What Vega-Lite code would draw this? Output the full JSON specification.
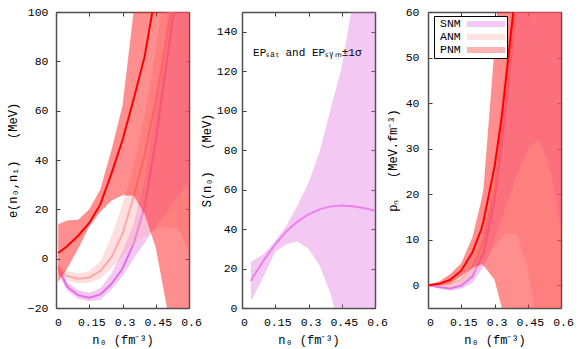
{
 "$schema": "https://vega.github.io/schema/vega-lite/v6.json",
 "padding": {"left": 6, "top": 6, "right": 5, "bottom": 4},
 "spacing": 53,
 "bounds": "flush",
 "background": "white",
 "config": {
  "font": "Liberation Mono",
  "view": {"stroke": null},
  "axis": {"domainColor": "#505050", "domainWidth": 1.5, "tickColor": "#404040", "tickWidth": 1, "tickSize": -4, "grid": false, "labelFont": "Liberation Mono", "labelFontSize": 11.5, "labelColor": "black", "titleFont": "Liberation Mono", "titleFontSize": 12, "titleFontWeight": "normal", "titleColor": "black", "labelOverlap": false, "labelFlush": false, "zindex": 1}
 },
 "datasets": {
  "E": [
   {"m": "SNM", "n": 0.01, "lo": -6, "hi": -1.5, "c": -3.5},
   {"m": "SNM", "n": 0.05, "lo": -13, "hi": -9.5, "c": -11.3},
   {"m": "SNM", "n": 0.1, "lo": -16.3, "hi": -12.8, "c": -14.8},
   {"m": "SNM", "n": 0.15, "lo": -17.3, "hi": -13.8, "c": -15.8},
   {"m": "SNM", "n": 0.2, "lo": -16.8, "hi": -12, "c": -14.5},
   {"m": "SNM", "n": 0.25, "lo": -12.5, "hi": -6, "c": -10.3},
   {"m": "SNM", "n": 0.3, "lo": -7, "hi": 3, "c": -4},
   {"m": "SNM", "n": 0.35, "lo": 0, "hi": 14, "c": 6},
   {"m": "SNM", "n": 0.4, "lo": 6.5, "hi": 32, "c": 21},
   {"m": "SNM", "n": 0.45, "lo": 13, "hi": 62, "c": 48},
   {"m": "SNM", "n": 0.5, "lo": 19, "hi": 95, "c": 80},
   {"m": "SNM", "n": 0.55, "lo": 25, "hi": 130, "c": 112},
   {"m": "SNM", "n": 0.6, "lo": 31, "hi": 170, "c": 150},
   {"m": "ANM", "n": 0.01, "lo": -5.5, "hi": -2.5, "c": -4},
   {"m": "ANM", "n": 0.05, "lo": -9, "hi": -5, "c": -7},
   {"m": "ANM", "n": 0.1, "lo": -10, "hi": -6, "c": -8.1},
   {"m": "ANM", "n": 0.15, "lo": -9.8, "hi": -5, "c": -7.6},
   {"m": "ANM", "n": 0.2, "lo": -8, "hi": -1, "c": -5},
   {"m": "ANM", "n": 0.25, "lo": -4, "hi": 9, "c": 0.5},
   {"m": "ANM", "n": 0.3, "lo": 1, "hi": 22, "c": 10},
   {"m": "ANM", "n": 0.35, "lo": 5.5, "hi": 38, "c": 25},
   {"m": "ANM", "n": 0.4, "lo": 9, "hi": 58, "c": 42},
   {"m": "ANM", "n": 0.45, "lo": 12, "hi": 85, "c": 64},
   {"m": "ANM", "n": 0.5, "lo": 13, "hi": 115, "c": 90},
   {"m": "ANM", "n": 0.55, "lo": 12, "hi": 150, "c": 118},
   {"m": "ANM", "n": 0.6, "lo": 3, "hi": 190, "c": 150},
   {"m": "PNM", "n": 0.01, "lo": -9.5, "hi": 14, "c": 2.3},
   {"m": "PNM", "n": 0.05, "lo": -4, "hi": 15.5, "c": 5},
   {"m": "PNM", "n": 0.1, "lo": 4, "hi": 15.8, "c": 9.3},
   {"m": "PNM", "n": 0.15, "lo": 13, "hi": 20, "c": 14.5},
   {"m": "PNM", "n": 0.2, "lo": 19, "hi": 28, "c": 22},
   {"m": "PNM", "n": 0.25, "lo": 23.5, "hi": 44, "c": 34.5},
   {"m": "PNM", "n": 0.3, "lo": 25.7, "hi": 62, "c": 48},
   {"m": "PNM", "n": 0.35, "lo": 25.5, "hi": 100, "c": 64.5},
   {"m": "PNM", "n": 0.4, "lo": 18, "hi": 140, "c": 82},
   {"m": "PNM", "n": 0.45, "lo": 4.5, "hi": 180, "c": 108},
   {"m": "PNM", "n": 0.5, "lo": -19.6, "hi": 220, "c": 135},
   {"m": "PNM", "n": 0.55, "lo": -45, "hi": 260, "c": 165},
   {"m": "PNM", "n": 0.6, "lo": -70, "hi": 300, "c": 200}
  ],
  "S": [
   {"m": "SNM", "n": 0.04, "lo": 3.6, "hi": 23, "c": 13.7},
   {"m": "SNM", "n": 0.05, "lo": 5.5, "hi": 24, "c": 15.8},
   {"m": "SNM", "n": 0.1, "lo": 16.5, "hi": 27.5, "c": 24.5},
   {"m": "SNM", "n": 0.15, "lo": 28.5, "hi": 34, "c": 32.3},
   {"m": "SNM", "n": 0.2, "lo": 32.3, "hi": 41.5, "c": 38.8},
   {"m": "SNM", "n": 0.25, "lo": 33.7, "hi": 52, "c": 43.8},
   {"m": "SNM", "n": 0.3, "lo": 30, "hi": 63.5, "c": 47.5},
   {"m": "SNM", "n": 0.35, "lo": 21.5, "hi": 79, "c": 50},
   {"m": "SNM", "n": 0.4, "lo": 7, "hi": 101, "c": 51.5},
   {"m": "SNM", "n": 0.45, "lo": -15, "hi": 122, "c": 52},
   {"m": "SNM", "n": 0.5, "lo": -40, "hi": 155, "c": 51.6},
   {"m": "SNM", "n": 0.55, "lo": -65, "hi": 190, "c": 50.7},
   {"m": "SNM", "n": 0.6, "lo": -90, "hi": 225, "c": 49.3}
  ],
  "P": [
   {"m": "SNM", "n": 0, "lo": 0, "hi": 0, "c": 0},
   {"m": "SNM", "n": 0.05, "lo": -0.8, "hi": 0, "c": -0.4},
   {"m": "SNM", "n": 0.1, "lo": -1.2, "hi": -0.2, "c": -0.7},
   {"m": "SNM", "n": 0.15, "lo": -0.8, "hi": 0.8, "c": -0.1},
   {"m": "SNM", "n": 0.2, "lo": 0.5, "hi": 3.5, "c": 1.9},
   {"m": "SNM", "n": 0.25, "lo": 4, "hi": 10, "c": 7},
   {"m": "SNM", "n": 0.28, "lo": 7, "hi": 16, "c": 14},
   {"m": "SNM", "n": 0.3, "lo": 10, "hi": 22, "c": 18.5},
   {"m": "SNM", "n": 0.35, "lo": 17, "hi": 42, "c": 38},
   {"m": "SNM", "n": 0.4, "lo": 24, "hi": 68, "c": 62},
   {"m": "SNM", "n": 0.453, "lo": 30.3, "hi": 95, "c": 90},
   {"m": "SNM", "n": 0.5, "lo": 32, "hi": 120, "c": 115},
   {"m": "SNM", "n": 0.535, "lo": 28, "hi": 140, "c": 135},
   {"m": "SNM", "n": 0.558, "lo": 24, "hi": 155, "c": 150},
   {"m": "SNM", "n": 0.6, "lo": 12, "hi": 180, "c": 175},
   {"m": "ANM", "n": 0, "lo": 0, "hi": 0, "c": 0},
   {"m": "ANM", "n": 0.05, "lo": -0.3, "hi": 0.4, "c": 0},
   {"m": "ANM", "n": 0.1, "lo": -0.6, "hi": 1.2, "c": 0.2},
   {"m": "ANM", "n": 0.15, "lo": 0, "hi": 2.8, "c": 1.2},
   {"m": "ANM", "n": 0.2, "lo": 2, "hi": 6.5, "c": 4},
   {"m": "ANM", "n": 0.24, "lo": 4.6, "hi": 11, "c": 8.5},
   {"m": "ANM", "n": 0.25, "lo": 5.2, "hi": 12.5, "c": 10},
   {"m": "ANM", "n": 0.3, "lo": 8.3, "hi": 27, "c": 21},
   {"m": "ANM", "n": 0.347, "lo": 11.3, "hi": 48, "c": 40},
   {"m": "ANM", "n": 0.4, "lo": 11.3, "hi": 75, "c": 62},
   {"m": "ANM", "n": 0.444, "lo": 4.7, "hi": 100, "c": 82},
   {"m": "ANM", "n": 0.474, "lo": -3.3, "hi": 120, "c": 97},
   {"m": "ANM", "n": 0.5, "lo": -12, "hi": 140, "c": 110},
   {"m": "ANM", "n": 0.6, "lo": -50, "hi": 220, "c": 170},
   {"m": "PNM", "n": 0, "lo": 0, "hi": 0, "c": 0},
   {"m": "PNM", "n": 0.05, "lo": 0, "hi": 0.8, "c": 0.3},
   {"m": "PNM", "n": 0.1, "lo": 0.4, "hi": 2.4, "c": 1.2},
   {"m": "PNM", "n": 0.15, "lo": 2, "hi": 4.8, "c": 3.2},
   {"m": "PNM", "n": 0.2, "lo": 3.8, "hi": 10.5, "c": 7.2},
   {"m": "PNM", "n": 0.24, "lo": 4.6, "hi": 18.5, "c": 12.2},
   {"m": "PNM", "n": 0.25, "lo": 4.4, "hi": 21, "c": 14},
   {"m": "PNM", "n": 0.3, "lo": 1.2, "hi": 52, "c": 26},
   {"m": "PNM", "n": 0.333, "lo": -5, "hi": 75, "c": 37},
   {"m": "PNM", "n": 0.36, "lo": -12, "hi": 90, "c": 49},
   {"m": "PNM", "n": 0.385, "lo": -18, "hi": 110, "c": 60},
   {"m": "PNM", "n": 0.4, "lo": -22, "hi": 120, "c": 68},
   {"m": "PNM", "n": 0.5, "lo": -50, "hi": 200, "c": 130},
   {"m": "PNM", "n": 0.6, "lo": -80, "hi": 300, "c": 200}
  ]
 },
 "hconcat": [
  {
   "width": 133, "height": 296,
   "data": {"name": "E"},
   "resolve": {"axis": {"x": "independent", "y": "independent"}},
   "layer": [
    {"transform": [{"filter": "datum.m === 'SNM'"}],
     "mark": {"type": "area", "clip": true, "color": "#dd60dd", "opacity": 0.35},
     "encoding": {
      "x": {"field": "n", "type": "quantitative", "scale": {"domain": [0, 0.6], "nice": false, "zero": false},
            "axis": {"orient": "bottom", "values": [0, 0.15, 0.3, 0.45, 0.6], "labelExpr": "format(datum.value, '.2~f')", "title": "n₀ (fm⁻³)", "titleY": 31, "titleBaseline": "middle", "labelPadding": 12, "labelOffset": 2}},
      "y": {"field": "lo", "type": "quantitative", "scale": {"domain": [-20, 100], "nice": false, "zero": false},
            "axis": {"orient": "left", "values": [-20, 0, 20, 40, 60, 80, 100], "title": "e(n₀,n₁)\u00a0\u00a0\u00a0(MeV)", "titleX": -44, "titleY": 148, "titleAngle": 270, "titleAlign": "center", "titleBaseline": "middle", "labelPadding": 12}},
      "y2": {"field": "hi"}
     }},
    {"transform": [{"filter": "datum.m === 'SNM'"}],
     "mark": {"type": "line", "clip": true, "color": "#e070e8", "strokeWidth": 2},
     "encoding": {
      "x": {"field": "n", "type": "quantitative", "axis": {"orient": "top", "labels": false, "title": null, "values": [0, 0.15, 0.3, 0.45, 0.6]}},
      "y": {"field": "c", "type": "quantitative", "axis": {"orient": "right", "labels": false, "title": null, "values": [-20, 0, 20, 40, 60, 80, 100]}}
     }},
    {"transform": [{"filter": "datum.m === 'ANM'"}],
     "mark": {"type": "area", "clip": true, "color": "#ffb0b0", "opacity": 0.4},
     "encoding": {
      "x": {"field": "n", "type": "quantitative", "axis": null},
      "y": {"field": "lo", "type": "quantitative", "axis": null},
      "y2": {"field": "hi"}
     }},
    {"transform": [{"filter": "datum.m === 'ANM'"}],
     "mark": {"type": "line", "clip": true, "color": "#ffa8a8", "strokeWidth": 2},
     "encoding": {
      "x": {"field": "n", "type": "quantitative", "axis": null},
      "y": {"field": "c", "type": "quantitative", "axis": null}
     }},
    {"transform": [{"filter": "datum.m === 'PNM'"}],
     "mark": {"type": "area", "clip": true, "color": "#ff2020", "opacity": 0.5},
     "encoding": {
      "x": {"field": "n", "type": "quantitative", "axis": null},
      "y": {"field": "lo", "type": "quantitative", "axis": null},
      "y2": {"field": "hi"}
     }},
    {"transform": [{"filter": "datum.m === 'PNM'"}],
     "mark": {"type": "line", "clip": true, "color": "#ff0000", "strokeWidth": 2},
     "encoding": {
      "x": {"field": "n", "type": "quantitative", "axis": null},
      "y": {"field": "c", "type": "quantitative", "axis": null}
     }}
   ]
  },
  {
   "width": 133, "height": 296,
   "data": {"name": "S"},
   "resolve": {"axis": {"x": "independent", "y": "independent"}},
   "layer": [
    {"mark": {"type": "area", "clip": true, "color": "#dd60dd", "opacity": 0.35},
     "encoding": {
      "x": {"field": "n", "type": "quantitative", "scale": {"domain": [0, 0.6], "nice": false, "zero": false},
            "axis": {"orient": "bottom", "values": [0, 0.15, 0.3, 0.45, 0.6], "labelExpr": "format(datum.value, '.2~f')", "title": "n₀ (fm⁻³)", "titleY": 31, "titleBaseline": "middle", "labelPadding": 12, "labelOffset": 2}},
      "y": {"field": "lo", "type": "quantitative", "scale": {"domain": [0, 150], "nice": false, "zero": false},
            "axis": {"orient": "left", "values": [0, 20, 40, 60, 80, 100, 120, 140], "title": "S(n₀)\u00a0\u00a0\u00a0(MeV)", "titleX": -36, "titleY": 148, "titleAngle": 270, "titleAlign": "center", "titleBaseline": "middle", "labelPadding": 9}},
      "y2": {"field": "hi"}
     }},
    {"mark": {"type": "line", "clip": true, "color": "#ee80ee", "strokeWidth": 2},
     "encoding": {
      "x": {"field": "n", "type": "quantitative", "axis": {"orient": "top", "labels": false, "title": null, "values": [0, 0.15, 0.3, 0.45, 0.6]}},
      "y": {"field": "c", "type": "quantitative", "axis": {"orient": "right", "labels": false, "title": null, "values": [0, 20, 40, 60, 80, 100, 120, 140]}}
     }},
    {"data": {"values": [{"x": 0.05, "y": 129, "t": "EPₛₐₜ and EPₛᵧₘ±1σ"}]},
     "mark": {"type": "text", "align": "left", "baseline": "middle", "font": "Liberation Mono", "fontSize": 11, "color": "black"},
     "encoding": {
      "x": {"field": "x", "type": "quantitative", "axis": null},
      "y": {"field": "y", "type": "quantitative", "axis": null},
      "text": {"field": "t"}
     }}
   ]
  },
  {
   "width": 133, "height": 296,
   "data": {"name": "P"},
   "resolve": {"axis": {"x": "independent", "y": "independent"}},
   "layer": [
    {"transform": [{"filter": "datum.m === 'SNM'"}],
     "mark": {"type": "area", "clip": true, "opacity": 0.35},
     "encoding": {
      "x": {"field": "n", "type": "quantitative", "scale": {"domain": [0, 0.6], "nice": false, "zero": false},
            "axis": {"orient": "bottom", "values": [0, 0.15, 0.3, 0.45, 0.6], "labelExpr": "format(datum.value, '.2~f')", "title": "n₀ (fm⁻³)", "titleY": 31, "titleBaseline": "middle", "labelPadding": 12, "labelOffset": 2}},
      "y": {"field": "lo", "type": "quantitative", "scale": {"domain": [-5, 60], "nice": false, "zero": false},
            "axis": {"orient": "left", "values": [0, 10, 20, 30, 40, 50, 60], "title": "pₙ\u00a0\u00a0\u00a0(MeV.fm⁻³)", "titleX": -36, "titleY": 148, "titleAngle": 270, "titleAlign": "center", "titleBaseline": "middle", "labelPadding": 13}},
      "y2": {"field": "hi"},
      "fill": {"field": "m", "type": "nominal", "scale": {"domain": ["SNM", "ANM", "PNM"], "range": ["#dd60dd", "#ffb0b0", "#ff2020"]},
               "legend": {"title": null, "orient": "none", "legendX": 378, "legendY": 4, "symbolType": "M5,-0.6H12.6V0.6H5Z", "symbolSize": 100, "labelOffset": -8, "labelFont": "Liberation Mono", "labelFontSize": 11.5, "labelColor": "black", "padding": 2, "rowPadding": 1, "strokeColor": "black", "fillColor": "white",
                          "encode": {"legend": {"update": {"strokeWidth": {"value": 1.5}}},
                                     "symbols": {"update": {"fill": {"signal": "datum.value === 'SNM' ? '#f5c8f5' : datum.value === 'ANM' ? '#ffe0e0' : '#ff8888'"}, "stroke": {"signal": "datum.value === 'SNM' ? '#e070e0' : datum.value === 'ANM' ? '#ffc0c0' : '#ff0000'"}, "strokeWidth": {"value": 1.2}, "opacity": {"value": 1}, "fillOpacity": {"value": 1}, "strokeOpacity": {"value": 1}}}}}}
     }},
    {"transform": [{"filter": "datum.m === 'SNM'"}],
     "mark": {"type": "line", "clip": true, "color": "#e070e8", "strokeWidth": 2},
     "encoding": {
      "x": {"field": "n", "type": "quantitative", "axis": {"orient": "top", "labels": false, "title": null, "values": [0, 0.15, 0.3, 0.45, 0.6]}},
      "y": {"field": "c", "type": "quantitative", "axis": {"orient": "right", "labels": false, "title": null, "values": [0, 10, 20, 30, 40, 50, 60]}}
     }},
    {"transform": [{"filter": "datum.m === 'ANM'"}],
     "mark": {"type": "area", "clip": true, "opacity": 0.4},
     "encoding": {
      "x": {"field": "n", "type": "quantitative", "axis": null},
      "y": {"field": "lo", "type": "quantitative", "axis": null},
      "y2": {"field": "hi"},
      "fill": {"field": "m", "type": "nominal"}
     }},
    {"transform": [{"filter": "datum.m === 'ANM'"}],
     "mark": {"type": "line", "clip": true, "color": "#ffa8a8", "strokeWidth": 2},
     "encoding": {
      "x": {"field": "n", "type": "quantitative", "axis": null},
      "y": {"field": "c", "type": "quantitative", "axis": null}
     }},
    {"transform": [{"filter": "datum.m === 'PNM'"}],
     "mark": {"type": "area", "clip": true, "opacity": 0.5},
     "encoding": {
      "x": {"field": "n", "type": "quantitative", "axis": null},
      "y": {"field": "lo", "type": "quantitative", "axis": null},
      "y2": {"field": "hi"},
      "fill": {"field": "m", "type": "nominal"}
     }},
    {"transform": [{"filter": "datum.m === 'PNM'"}],
     "mark": {"type": "line", "clip": true, "color": "#ff0000", "strokeWidth": 2},
     "encoding": {
      "x": {"field": "n", "type": "quantitative", "axis": null},
      "y": {"field": "c", "type": "quantitative", "axis": null}
     }}
   ]
  }
 ]
}
